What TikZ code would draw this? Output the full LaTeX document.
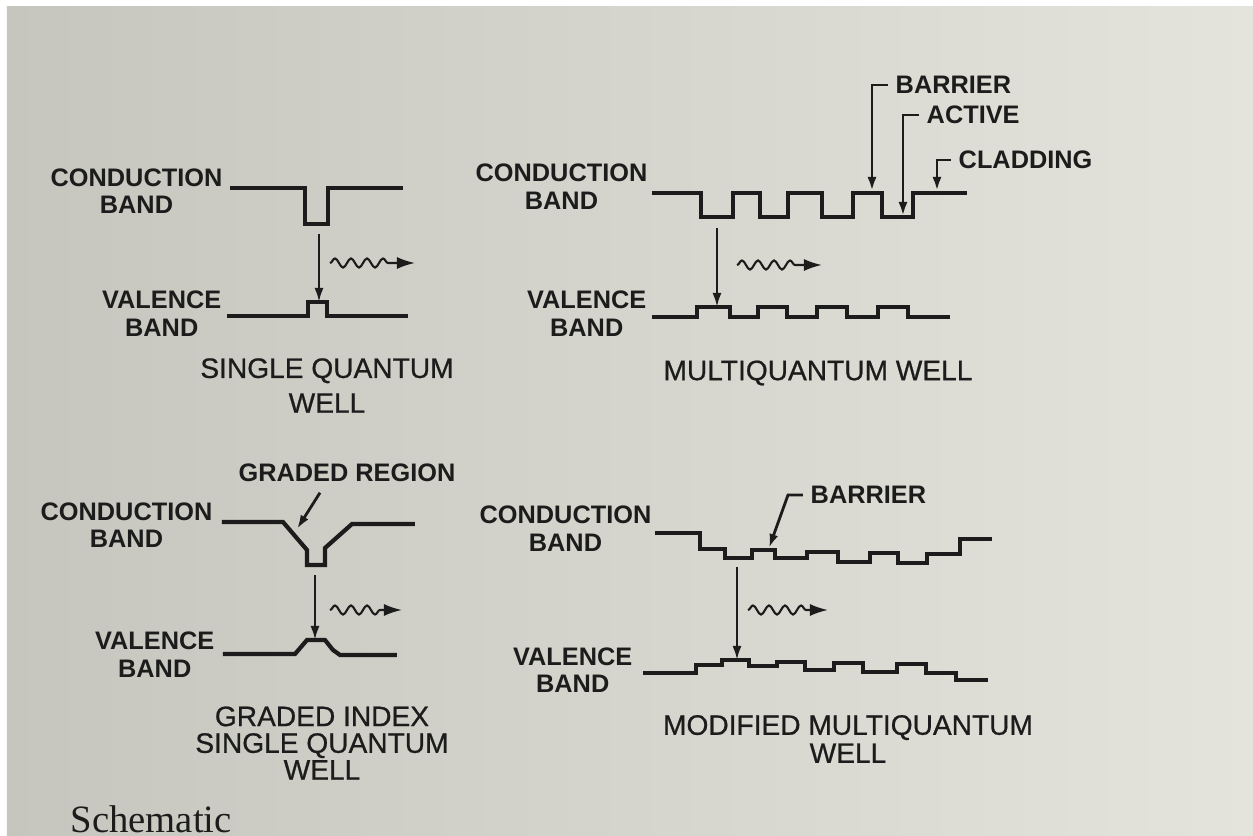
\documentclass[tikz,border=0pt]{standalone}
\usepackage{fontspec}
\setmainfont{Liberation Sans}
\newfontfamily\pageserif{Liberation Serif}
\newfontfamily\titlesans[FakeBold=0.7]{Liberation Sans}
\usepackage{xcolor}
\usepackage{tikz}
\usetikzlibrary{arrows.meta,decorations.pathmorphing}
\definecolor{inkdark}{HTML}{1C1C1C}
\definecolor{paperleft}{HTML}{C6C6BE}
\definecolor{paperright}{HTML}{E4E4DC}
\tikzset{
  bandline/.style={draw=inkdark,line width=1.2pt,line join=miter},
  dropline/.style={-{Latex[length=1.4mm,width=0.9mm]},draw=inkdark,line width=0.7pt},
  leaderline/.style={-{Latex[length=1.4mm,width=0.9mm]},draw=inkdark,line width=0.8pt},
  photonline/.style={-{Latex[length=1.8mm,width=1.2mm]},draw=inkdark,line width=0.6pt,decorate,decoration={snake,segment length=1.6mm,amplitude=0.45mm,post length=2mm}},
  bandlabel/.style={inner sep=0pt,align=center,font=\fontsize{7.2}{7.8}\selectfont\bfseries,text=inkdark},
  taglabel/.style={inner sep=2pt,font=\fontsize{7.2}{8}\selectfont\bfseries,text=inkdark},
  welltitle/.style={inner sep=0pt,align=center,text=inkdark},
}
\begin{document}
\begin{tikzpicture}[x=0.01cm,y=-0.01cm]
  \useasboundingbox (0,0) rectangle (1253,836);
  \fill[white] (0,0) rectangle (1253,836);
  \shade[left color=paperleft,right color=paperright] (7,6) rectangle (1253,836);

  % single quantum well
  \node[bandlabel,anchor=east] (sqcb) at (223,191) {CONDUCTION\\BAND};
  \node[bandlabel,anchor=east] (sqvb) at (222,313.5) {VALENCE\\BAND};
  \draw[bandline] (230,188) -- (305,188) -- (305,224) -- (328,224) -- (328,188) -- (403,188);
  \draw[bandline] (227,316) -- (308,316) -- (308,302) -- (327,302) -- (327,316) -- (408,316);
  \coordinate (sqtop) at (319,234);
  \coordinate (sqbot) at (319,302);
  \draw[dropline] (sqtop) -- (sqbot);
  \coordinate (sqwa) at (330,263);
  \coordinate (sqwb) at (415,263);
  \draw[photonline] (sqwa) -- (sqwb);
  \node[welltitle,font=\titlesans\fontsize{8}{9.9}\selectfont] (sqtitle) at (327,385.5) {SINGLE QUANTUM\\WELL};

  % multiquantum well
  \node[bandlabel,anchor=east] (mqcb) at (648,186.5) {CONDUCTION\\BAND};
  \node[bandlabel,anchor=east] (mqvb) at (647,313.5) {VALENCE\\BAND};
  \draw[bandline] (652,193) -- (701,193) -- (701,217) -- (733,217) -- (733,193) -- (760,193) -- (760,217) -- (788,217) -- (788,193) -- (822,193) -- (822,217) -- (853,217) -- (853,193) -- (882,193) -- (882,217) -- (913,217) -- (913,193) -- (967,193);
  \draw[bandline] (652,317) -- (697,317) -- (697,307) -- (730,307) -- (730,317) -- (758,317) -- (758,307) -- (787,307) -- (787,317) -- (817,317) -- (817,307) -- (847,307) -- (847,317) -- (878,317) -- (878,307) -- (908,307) -- (908,317) -- (950,317);
  \coordinate (mqtop) at (717,228);
  \coordinate (mqbot) at (717,307);
  \draw[dropline] (mqtop) -- (mqbot);
  \coordinate (mqwa) at (737,265);
  \coordinate (mqwb) at (822,265);
  \draw[photonline] (mqwa) -- (mqwb);
  \node[taglabel,anchor=west] (mqbar) at (888,85) {BARRIER};
  \node[taglabel,anchor=west] (mqact) at (919,115) {ACTIVE};
  \node[taglabel,anchor=west] (mqclad) at (951,160) {CLADDING};
  \coordinate (mqbartip) at (872,191);
  \coordinate (mqacttip) at (903,216);
  \coordinate (mqcladtip) at (937,191);
  \draw[leaderline] (mqbar.west) -| (mqbartip);
  \draw[leaderline] (mqact.west) -| (mqacttip);
  \draw[leaderline] (mqclad.west) -| (mqcladtip);
  \node[welltitle,font=\titlesans\fontsize{8}{9.9}\selectfont] (mqtitle) at (818,373) {MULTIQUANTUM WELL};

  % graded index single quantum well
  \node[bandlabel,anchor=east] (gicb) at (213,525) {CONDUCTION\\BAND};
  \node[bandlabel,anchor=east] (givb) at (215,654.5) {VALENCE\\BAND};
  \draw[bandline] (222,522) -- (283,522) -- (307,550) -- (307,565) -- (325,565) -- (325,548) -- (352,524) -- (415,524);
  \draw[bandline] (223,654) -- (295,654) -- (307,640) -- (325,640) -- (333,650) -- (340,655) -- (397,655);
  \coordinate (gitop) at (315,575);
  \coordinate (gibot) at (315,640);
  \draw[dropline] (gitop) -- (gibot);
  \coordinate (giwa) at (330,610);
  \coordinate (giwb) at (402,610);
  \draw[photonline] (giwa) -- (giwb);
  \node[taglabel] (gigrade) at (347,473) {GRADED REGION};
  \coordinate (gigradetip) at (297,529);
  \draw[leaderline] (gigrade.south) ++(-27,3) -- (gigradetip);
  \node[welltitle,font=\titlesans\fontsize{8}{7.6}\selectfont] (gititle) at (322,743) {GRADED INDEX\\SINGLE QUANTUM\\WELL};

  % modified multiquantum well
  \node[bandlabel,anchor=east] (mmcb) at (652,528.5) {CONDUCTION\\BAND};
  \node[bandlabel,anchor=east] (mmvb) at (633,670) {VALENCE\\BAND};
  \draw[bandline] (655,533) -- (700,533) -- (700,549) -- (725,549) -- (725,558) -- (752,558) -- (752,550) -- (775,550) -- (775,558) -- (807,558) -- (807,552) -- (838,552) -- (838,562) -- (870,562) -- (870,553) -- (898,553) -- (898,563) -- (927,563) -- (927,554) -- (960,554) -- (960,539) -- (992,539);
  \draw[bandline] (643,673) -- (696,673) -- (696,665) -- (722,665) -- (722,660) -- (749,660) -- (749,666) -- (777,666) -- (777,662) -- (805,662) -- (805,670) -- (834,670) -- (834,663) -- (863,663) -- (863,672) -- (897,672) -- (897,664) -- (926,664) -- (926,673) -- (956,673) -- (956,680) -- (988,680);
  \coordinate (mmtop) at (737,567);
  \coordinate (mmbot) at (737,660);
  \draw[dropline] (mmtop) -- (mmbot);
  \coordinate (mmwa) at (748,610);
  \coordinate (mmwb) at (828,610);
  \draw[photonline] (mmwa) -- (mmwb);
  \node[taglabel,anchor=west] (mmbar) at (803,495) {BARRIER};
  \coordinate (mmbartip) at (769,548);
  \draw[leaderline] (mmbar.west) -- ++(-15,0) -- (mmbartip);
  \node[welltitle,font=\titlesans\fontsize{8}{8}\selectfont] (mmtitle) at (848,739) {MODIFIED MULTIQUANTUM\\WELL};

  \node[anchor=base west,inner sep=0pt,text=inkdark,font=\pageserif\fontsize{11}{12}\selectfont] (pagecap) at (70,832) {Schematic};
\end{tikzpicture}
\end{document}
